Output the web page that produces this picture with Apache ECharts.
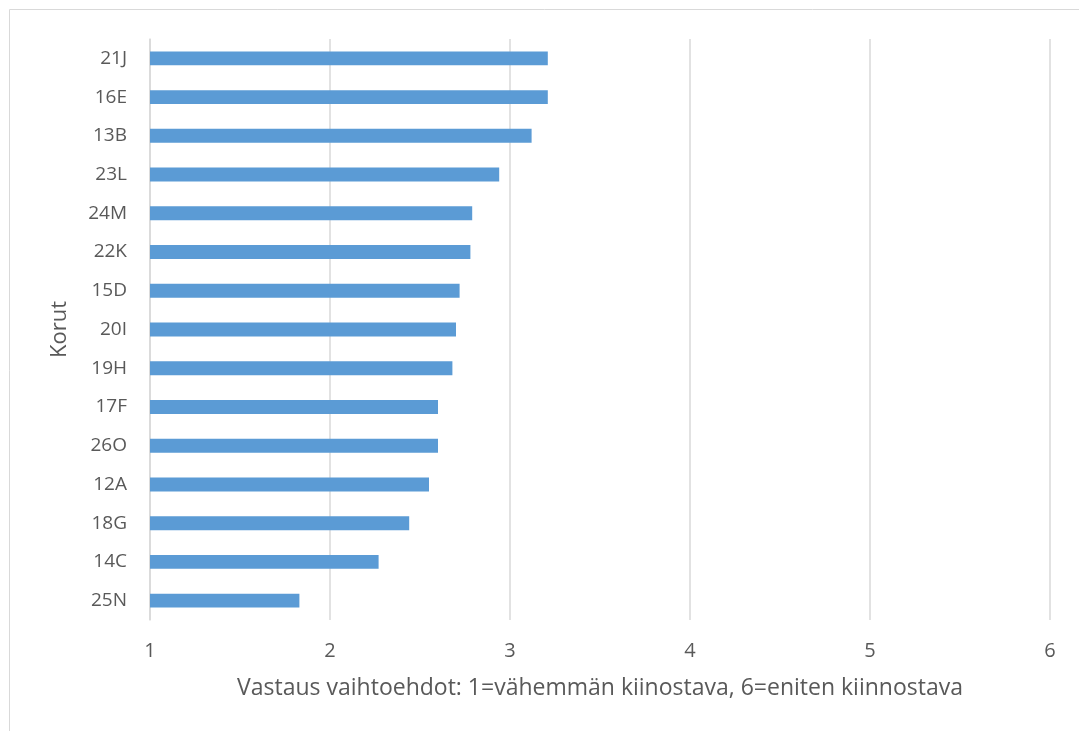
<!DOCTYPE html>
<html>
<head>
<meta charset="utf-8">
<script src="https://cdn.jsdelivr.net/npm/echarts@6/dist/echarts.min.js"></script>
<style>
  html, body { margin: 0; padding: 0; background: #fff; }
  #chart { width: 1079px; height: 731px; }
</style>
</head>
<body>
<div id="chart"></div>
<script>
// kategoriat ylhäältä alas
var categories = ['21J', '16E', '13B', '23L', '24M', '22K', '15D', '20I', '19H', '17F', '26O', '12A', '18G', '14C', '25N']
var values = [3.21, 3.21, 3.12, 2.94, 2.79, 2.78, 2.72, 2.70, 2.68, 2.60, 2.60, 2.55, 2.44, 2.27, 1.83]
var xTicks = [1, 2, 3, 4, 5, 6]

var fontName = 'Open Sans'
var textColor = '#595959'

var myChart = echarts.init(document.getElementById('chart'))
var option = {
  animation: false,
  graphic: [{
    type: 'rect',
    shape: { x: 9.5, y: 9.5, width: 1200, height: 900 },
    style: { fill: 'none', stroke: '#D9D9D9', lineWidth: 1 },
    silent: true
  }],
  grid: { left: 150, right: 29, top: 39, bottom: 111 },
  xAxis: {
    type: 'value',
    min: xTicks[0],
    max: xTicks[xTicks.length - 1],
    interval: 1,
    name: 'Vastaus vaihtoehdot: 1=vähemmän kiinostava, 6=eniten kiinnostava',
    nameLocation: 'middle',
    nameGap: 57,
    nameTextStyle: { fontFamily: fontName, fontSize: 23, color: textColor },
    axisLine: { show: false },
    axisTick: { show: false },
    axisLabel: { fontFamily: fontName, fontSize: 20, color: textColor, margin: 21 },
    splitLine: { lineStyle: { color: '#D9D9D9', width: 1.5 } }
  },
  yAxis: {
    type: 'category',
    inverse: true,
    data: categories,
    name: 'Korut',
    nameLocation: 'middle',
    nameGap: 79,
    nameTextStyle: { fontFamily: fontName, fontSize: 22, color: textColor },
    axisLine: { show: true, lineStyle: { color: '#D9D9D9', width: 1.5 } },
    axisTick: { show: false },
    axisLabel: { fontFamily: fontName, fontSize: 19, color: textColor, margin: 23 }
  },
  series: [{
    type: 'bar',
    data: values,
    barWidth: '36%',
    itemStyle: { color: '#5B9BD5' }
  }]
}
myChart.setOption(option)
</script>
</body>
</html>
